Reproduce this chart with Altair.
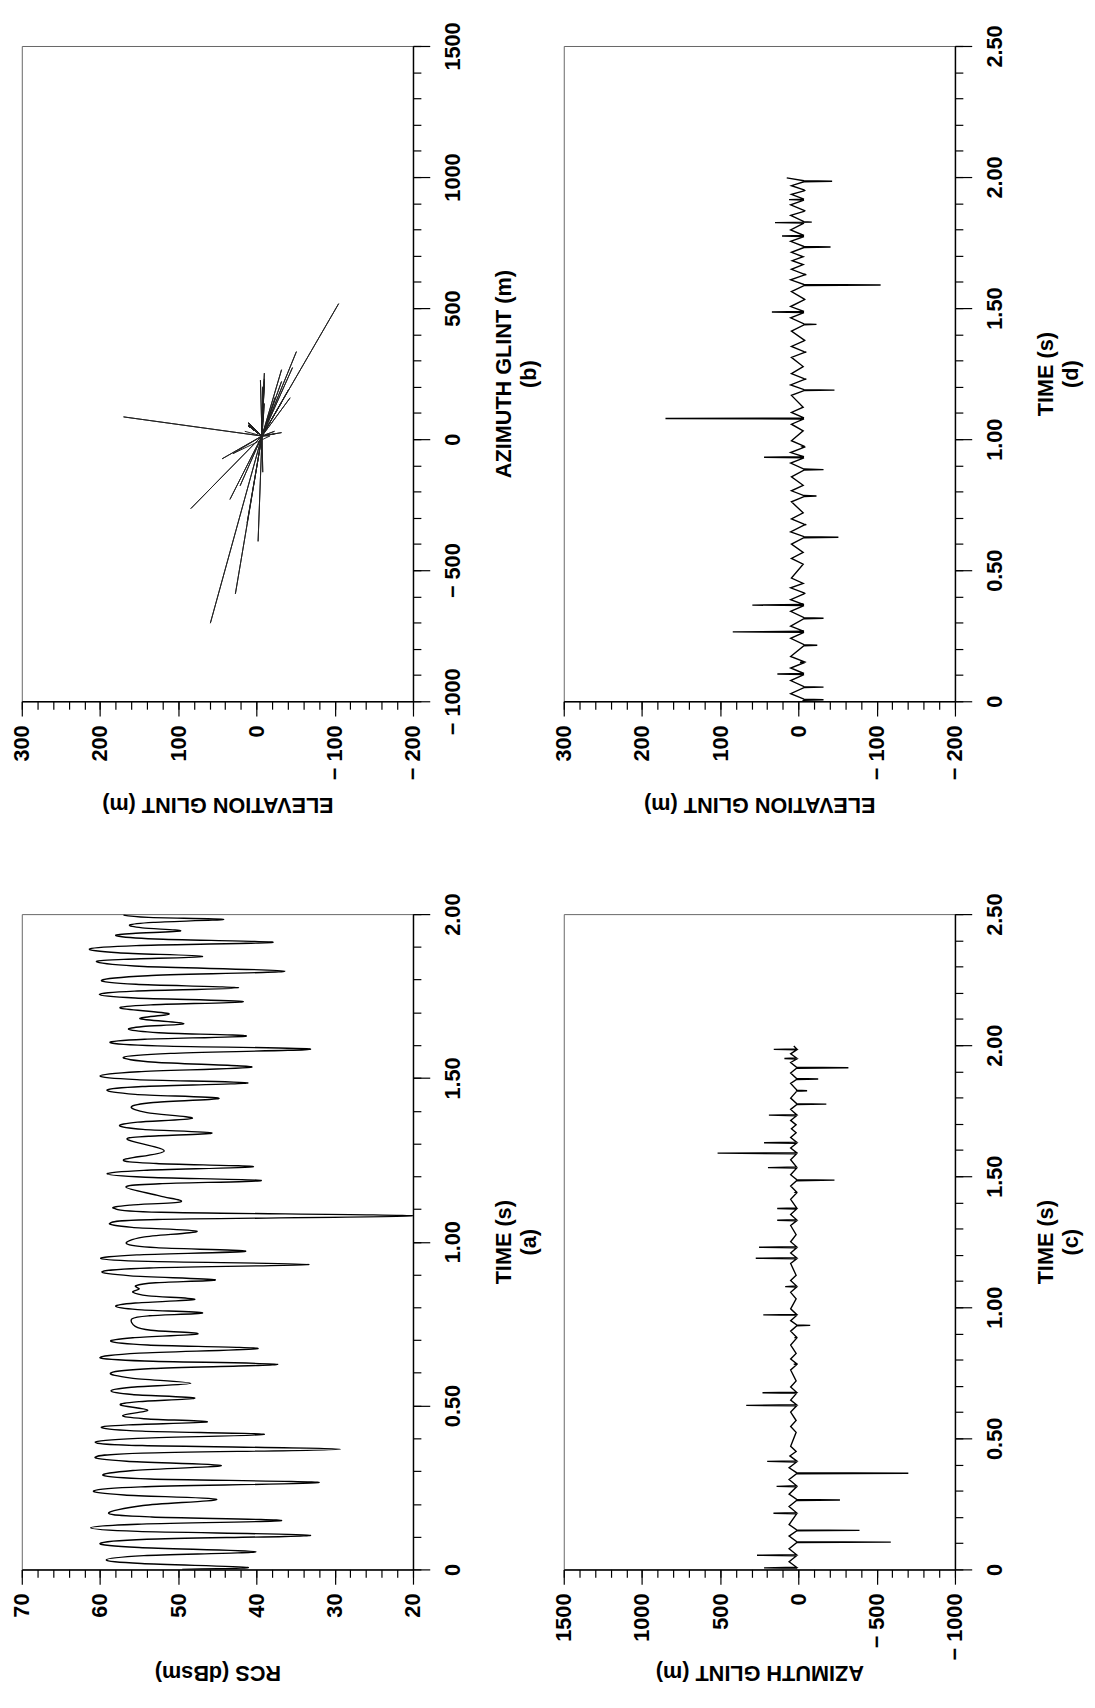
import altair as alt
import pandas as pd

# ---------------- panel (a): RCS vs time ----------------
rcs_t = [0.000, 0.006, 0.018, 0.029, 0.042, 0.054, 0.067, 0.079, 0.092, 0.104,
         0.116, 0.127, 0.138, 0.149, 0.160, 0.171, 0.195, 0.214, 0.227, 0.240,
         0.252, 0.265, 0.276, 0.287, 0.302, 0.317, 0.330, 0.343, 0.355, 0.367,
         0.378, 0.388, 0.400, 0.412, 0.422, 0.433, 0.441, 0.450, 0.460, 0.470,
         0.486, 0.502, 0.512, 0.523, 0.534, 0.545, 0.556, 0.568, 0.584, 0.600,
         0.613, 0.626, 0.636, 0.646, 0.660, 0.674, 0.685, 0.696, 0.707, 0.719,
         0.730, 0.742, 0.765, 0.774, 0.783, 0.793, 0.803, 0.813, 0.824, 0.835,
         0.846, 0.856, 0.866, 0.875, 0.884, 0.896, 0.909, 0.920, 0.931, 0.940,
         0.949, 0.960, 0.971, 0.982, 0.994, 1.014, 1.032, 1.044, 1.057, 1.068,
         1.079, 1.090, 1.102, 1.112, 1.122, 1.140, 1.167, 1.177, 1.187, 1.197,
         1.207, 1.218, 1.229, 1.239, 1.250, 1.277, 1.312, 1.322, 1.332, 1.343,
         1.354, 1.365, 1.377, 1.394, 1.412, 1.425, 1.438, 1.450, 1.463, 1.474,
         1.485, 1.495, 1.506, 1.519, 1.533, 1.548, 1.563, 1.575, 1.588, 1.598,
         1.608, 1.618, 1.628, 1.638, 1.648, 1.657, 1.666, 1.681, 1.696, 1.713,
         1.723, 1.733, 1.744, 1.755, 1.765, 1.775, 1.786, 1.798, 1.812, 1.826,
         1.840, 1.854, 1.862, 1.871, 1.882, 1.894, 1.904, 1.914, 1.924, 1.934,
         1.941, 1.949, 1.958, 1.967, 1.975, 1.984, 1.990, 1.997]
rcs_db = [49.5, 41.1, 54.7, 59.2, 54.4, 40.1, 55.0, 60.0, 54.0, 33.1,
          55.2, 61.2, 55.2, 36.8, 53.4, 58.9, 54.5, 45.1, 56.9, 60.8,
          54.8, 32.0, 53.6, 59.6, 55.8, 44.5, 56.6, 60.6, 54.6, 29.3,
          54.6, 60.6, 55.2, 39.0, 54.6, 59.8, 56.4, 46.3, 54.4, 57.1,
          53.9, 57.4, 55.0, 47.9, 55.9, 58.6, 56.0, 48.4, 56.0, 58.6,
          53.3, 37.3, 54.3, 60.0, 55.0, 39.8, 53.9, 58.6, 55.8, 47.5,
          53.5, 55.5, 55.9, 53.7, 46.9, 55.2, 58.0, 55.5, 47.9, 53.8,
          55.8, 55.0, 55.4, 52.9, 45.3, 56.1, 59.7, 53.7, 33.3, 53.9,
          59.9, 55.3, 41.4, 52.8, 56.6, 54.5, 47.6, 55.9, 58.7, 52.7,
          20.0, 52.2, 58.2, 56.1, 49.7, 52.4, 56.7, 52.4, 39.4, 54.2,
          59.1, 54.4, 40.4, 52.8, 57.0, 51.8, 56.5, 53.8, 45.7, 54.5,
          57.5, 55.2, 48.2, 54.0, 56.0, 53.2, 44.8, 55.5, 59.1, 54.6,
          41.1, 55.3, 60.0, 55.1, 40.6, 52.9, 57.0, 51.0, 33.1, 52.7,
          58.7, 54.3, 41.3, 52.5, 56.3, 54.5, 49.3, 54.9, 51.2, 57.4,
          53.5, 41.7, 55.5, 60.1, 55.6, 42.3, 55.4, 59.8, 53.9, 36.4,
          54.4, 60.4, 57.0, 46.9, 57.7, 61.3, 55.4, 37.9, 52.9, 57.9,
          55.8, 49.7, 54.6, 56.2, 53.2, 44.2, 53.8, 57.0]

# ---------------- glint (panels b, c, d) ----------------
glint_t = [0.000, 0.004, 0.006, 0.008, 0.029,
           0.052, 0.054, 0.056, 0.079,
           0.102, 0.104, 0.106, 0.127,
           0.147, 0.149, 0.151, 0.171,
           0.212, 0.214, 0.216, 0.240,
           0.263, 0.265, 0.267, 0.287,
           0.315, 0.317, 0.319, 0.343,
           0.365, 0.367, 0.369, 0.388,
           0.410, 0.412, 0.414, 0.433,
           0.450, 0.470, 0.523, 0.545, 0.568, 0.600,
           0.624, 0.626, 0.628, 0.646,
           0.672, 0.674, 0.676, 0.696, 0.719, 0.761,
           0.781, 0.783, 0.785, 0.803, 0.824, 0.856,
           0.882, 0.884, 0.886, 0.909,
           0.929, 0.931, 0.933, 0.949,
           0.969, 0.971, 0.973, 0.994, 1.032, 1.057,
           1.077, 1.079, 1.081, 1.102, 1.122, 1.167,
           1.185, 1.187, 1.189, 1.207,
           1.227, 1.229, 1.231, 1.250, 1.277, 1.312,
           1.330, 1.332, 1.334, 1.354,
           1.375, 1.377, 1.379, 1.412,
           1.436, 1.438, 1.440, 1.463,
           1.483, 1.485, 1.487, 1.506,
           1.531, 1.533, 1.535, 1.563,
           1.586, 1.588, 1.590, 1.608,
           1.626, 1.628, 1.630, 1.648, 1.666, 1.681, 1.696, 1.713,
           1.731, 1.733, 1.735, 1.755,
           1.773, 1.775, 1.777, 1.798,
           1.824, 1.826, 1.828, 1.830, 1.854,
           1.869, 1.871, 1.873, 1.894,
           1.912, 1.914, 1.916, 1.934,
           1.947, 1.949, 1.951, 1.967,
           1.982, 1.984, 1.986, 1.997]
glint_az = [15, 12, 220, 12, 60,
            12, 265, 12, 60,
            12, -590, 12, 60,
            12, -390, 12, 60,
            12, 160, 12, 60,
            12, -265, 12, 60,
            12, 140, 12, 60,
            12, -702, 12, 60,
            12, 200, 12, 55,
            15, 50, 15, 50, 15, 50,
            12, 334, 12, 50,
            12, 230, 12, 50, 15, 50,
            12, 30, 12, 50, 15, 50,
            12, 25, 12, 50,
            12, -75, 12, 50,
            12, 225, 12, 50, 15, 50,
            12, 85, 12, 50, 15, 50,
            12, 273, 12, 50,
            12, 252, 12, 50, 15, 50,
            12, 136, 12, 50,
            12, 136, 12, 50,
            12, 20, 12, 50,
            12, -230, 12, 50,
            12, 195, 12, 50,
            12, 517, 12, 50,
            12, 220, 12, 50, 15, 45, 15, 50,
            12, 189, 12, 50,
            12, -178, 12, 50,
            12, -55, 12, 12, 50,
            12, -126, 12, 50,
            12, -319, 12, 50,
            12, 90, 12, 50,
            12, 158, 12, 30]
glint_el = [-5, -7, -32, -7, 10,
            -7, -32, -7, 10,
            -7, 27, -7, 10,
            -7, -2, -7, 10,
            -7, -24, -7, 10,
            -7, 84, -7, 10,
            -7, -32, -7, 10,
            -7, 59, -7, 10,
            -7, -8, -7, 10,
            -6, 9, -6, 9, -6, 9,
            -7, -51, -7, 10,
            -7, -10, -7, 9, -6, 9,
            -7, -23, -7, 9, -6, 9,
            -7, -32, -7, 10,
            -7, 44, -7, 10,
            -7, -5, -7, 9, -6, 9,
            -7, 170, -7, 9, -6, 9,
            -7, -46, -7, 10,
            -7, -10, -7, 9, -6, 9,
            -7, -10, -7, 9,
            -7, -8, -7, 9,
            -7, -23, -7, 10,
            -7, 34, -7, 10,
            -7, -8, -7, 9,
            -7, -105, -7, 10,
            -7, -10, -7, 9, -6, 8, -6, 9,
            -7, -41, -7, 10,
            -7, 21, -7, 10,
            -7, 30, -17, -7, 10,
            -7, -8, -7, 10,
            -7, 12, -7, 9,
            -7, -8, -7, 9,
            -7, -43, -7, 15]

# ---------------- axis tick values ----------------
time_major_a = [0, 0.5, 1.0, 1.5, 2.0]
time_minor_a = [round(i * 0.1, 1) for i in range(21)]
time_major_cd = [0, 0.5, 1.0, 1.5, 2.0, 2.5]
time_minor_cd = [round(i * 0.1, 1) for i in range(26)]
rcs_major = [70, 60, 50, 40, 30, 20]
rcs_minor = list(range(20, 71, 2))
az_major = [1500, 1000, 500, 0, -500, -1000]
az_minor = list(range(-1000, 1501, 100))
el_major = [300, 200, 100, 0, -100, -200]
el_minor = list(range(-200, 301, 20))

rcs_df = pd.DataFrame({"t": rcs_t, "rcs": rcs_db})
glint_df = pd.DataFrame({"t": glint_t, "az": glint_az, "el": glint_el})

NUM_EXPR = "datum.value < 0 ? '\u2212 ' + format(-datum.value, 'd') : format(datum.value, 'd')"
TIME_EXPR = "datum.value == 0 ? '0' : format(datum.value, '.2f')"

W, H = 397, 665


def panel(df, xf, yf, xdom, ydom, xmaj, xmin, ymaj, ymin, xtitle, ytitle,
          ylab, lw, color, interp):
    xs = alt.Scale(domain=xdom, reverse=True, nice=False, zero=False)
    ys = alt.Scale(domain=ydom, nice=False, zero=False)
    main = alt.Chart(df).mark_line(color=color, strokeWidth=lw, clip=True,
                                   interpolate=interp).encode(
        x=alt.X(f"{xf}:Q", scale=xs,
                axis=alt.Axis(orient="bottom", values=xmaj, tickSize=15,
                              labelAngle=270, labelAlign="right",
                              labelBaseline="middle", labelPadding=9,
                              labelExpr=NUM_EXPR, title=xtitle,
                              titleAngle=180, titleBaseline="middle",
                              titleY=105, domainWidth=1.5)),
        y=alt.Y(f"{yf}:Q", scale=ys,
                axis=alt.Axis(orient="right", values=ymaj, tickSize=17,
                              labelAngle=270, labelAlign="center",
                              labelBaseline="top", labelPadding=13,
                              labelExpr=ylab, title=ytitle,
                              titleAngle=270, titleBaseline="top",
                              titleAlign="center", titlePadding=6,
                              titleLineHeight=25, domainWidth=1.5)),
        order=alt.Order("t:Q"),
    )
    minor = alt.Chart(df).mark_point(opacity=0).encode(
        x=alt.X(f"{xf}:Q", scale=xs,
                axis=alt.Axis(orient="bottom", values=xmin, tickSize=8,
                              labels=False, domain=False, title="")),
        y=alt.Y(f"{yf}:Q", scale=ys,
                axis=alt.Axis(orient="right", values=ymin, tickSize=8,
                              labels=False, domain=False, title="")),
    )
    return (alt.layer(main, minor)
            .resolve_axis(x="independent", y="independent")
            .properties(width=W, height=H))


pb = panel(glint_df, "el", "az", [-200, 300], [-1000, 1500], el_major, el_minor,
           az_major, az_minor, "ELEVATION GLINT (m)", ["AZIMUTH GLINT (m)", "(b)"],
           NUM_EXPR, 1.0, "#222222", "linear")
pd_ = panel(glint_df, "el", "t", [-200, 300], [0, 2.5], el_major, el_minor,
            time_major_cd, time_minor_cd, "ELEVATION GLINT (m)", ["TIME (s)", "(d)"],
            TIME_EXPR, 1.4, "black", "linear")
pa = panel(rcs_df, "rcs", "t", [20, 70], [0, 2.0], rcs_major, rcs_minor,
           time_major_a, time_minor_a, "RCS (dBsm)", ["TIME (s)", "(a)"],
           TIME_EXPR, 1.4, "black", "cardinal")
pc = panel(glint_df, "az", "t", [-1000, 1500], [0, 2.5], az_major, az_minor,
           time_major_cd, time_minor_cd, "AZIMUTH GLINT (m)", ["TIME (s)", "(c)"],
           TIME_EXPR, 1.4, "black", "linear")

chart = alt.ConcatChart(
    concat=[pb, pd_, pa, pc], columns=2,
    spacing={"row": 216, "column": 153}, bounds="flush",
).properties(
    padding={"left": 2, "top": 1, "right": 5, "bottom": 5}
).configure_view(
    stroke="#666666", strokeWidth=1
).configure_axis(
    labelFont="Liberation Sans", labelFontSize=22, labelFontWeight="bold",
    labelColor="black", titleFont="Liberation Sans", titleFontSize=22,
    titleFontWeight="bold", titleColor="black", domainColor="black",
    tickColor="black", tickWidth=1.2, grid=False,
)

chart.save("out.html", embed_options={"renderer": "svg", "actions": False})
